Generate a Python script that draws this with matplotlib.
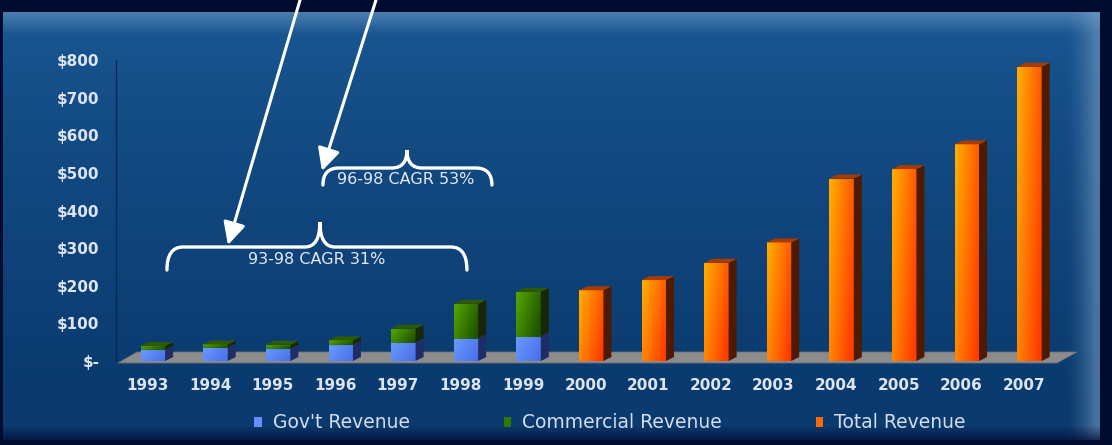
import numpy as np
import matplotlib.pyplot as plt
from matplotlib.patches import Polygon, Patch, PathPatch
from matplotlib.path import Path
from matplotlib.colors import to_rgb
from matplotlib.transforms import ScaledTranslation

# revenue, $M
years = ['1993', '1994', '1995', '1996', '1997', '1998', '1999',
         '2000', '2001', '2002', '2003', '2004', '2005', '2006', '2007']
govt_rev = [29, 35, 31, 42, 49, 59, 65]
commercial_rev = [11, 9, 12, 13, 37, 93, 119]
total_rev = [188, 215, 261, 315, 485, 510, 576, 782]
y_ticks = [0, 100, 200, 300, 400, 500, 600, 700, 800]
y_labels = ['$-', '$100', '$200', '$300', '$400', '$500', '$600', '$700', '$800']

W, H = 1112, 445
TXT = '#dde4f0'


def lerp(c1, c2, t):
    c1, c2 = np.array(to_rgb(c1)), np.array(to_rgb(c2))
    return c1 + (c2 - c1) * t[..., None]


def background():
    yy, xx = np.mgrid[0:H, 0:W].astype(float)
    # panel body, lighter near the top
    t = np.clip((yy - 20) / 380, 0, 1)
    img = lerp('#1a5894', '#0a3a6e', t ** 0.7)
    # top bevel
    top = np.clip(1 - (yy - 12) / 22, 0, 1)
    img = img * (1 - top[..., None] * 0.6) + np.array(to_rgb('#6b95c0')) * top[..., None] * 0.6
    # right bevel
    r = np.clip((xx - 1065) / 30, 0, 1) ** 1.5
    img = img * (1 - r[..., None] * 0.55) + np.array(to_rgb('#7a9ec4')) * r[..., None] * 0.55
    # outer dark frame
    out = np.array(to_rgb('#000b30'))
    mask = (yy < 12) | (xx > 1099) | (xx < 3) | (yy > 439)
    img[mask] = out
    # soft bottom shadow
    b = np.clip((yy - 425) / 15, 0, 1)
    img = img * (1 - b[..., None] * 0.7) + out * b[..., None] * 0.7
    return img


def grad_image(c1, c2, n=64):
    yy, xx = np.mgrid[0:n, 0:n] / (n - 1)
    t = np.clip(0.75 * xx + 0.35 * yy, 0, 1)
    return lerp(c1, c2, t)


def bar3d(ax, x, bottom, height, width, c1, c2, side, top, dx, dy):
    x0, x1 = x - width / 2, x + width / 2
    y0, y1 = bottom, bottom + height
    front = ax.bar(x, height, width, bottom=bottom, color='none', linewidth=0)[0]
    im = ax.imshow(grad_image(c1, c2), extent=[x0, x1, y0, y1],
                   origin='upper', aspect='auto', zorder=3)
    im.set_clip_path(front)
    ax.add_patch(Polygon([(x1, y0), (x1 + dx, y0 + dy), (x1 + dx, y1 + dy), (x1, y1)],
                         closed=True, fc=side, ec='none', zorder=3))
    ax.add_patch(Polygon([(x0, y1), (x1, y1), (x1 + dx, y1 + dy), (x0 + dx, y1 + dy)],
                         closed=True, fc=top, ec='none', zorder=3))


def brace(ax, x0, x1, xm, y_end, y_mid, y_peak, ux, uy):
    r = 16 / ux
    rp = 15 / ux
    verts = [(x0, y_end), (x0, y_mid), (x0 + r, y_mid),
             (xm - rp, y_mid), (xm, y_mid), (xm, y_peak),
             (xm, y_mid), (xm + rp, y_mid),
             (x1 - r, y_mid), (x1, y_mid), (x1, y_end)]
    codes = [Path.MOVETO, Path.CURVE3, Path.CURVE3,
             Path.LINETO, Path.CURVE3, Path.CURVE3,
             Path.CURVE3, Path.CURVE3,
             Path.LINETO, Path.CURVE3, Path.CURVE3]
    ax.add_patch(PathPatch(Path(verts, codes), fc='none', ec='white', lw=2.4,
                           capstyle='round', zorder=5, clip_on=False))


fig = plt.figure(figsize=(W / 100, H / 100), dpi=100)
bg = fig.add_axes([0, 0, 1, 1])
bg.imshow(background(), aspect='auto', interpolation='bilinear')
bg.axis('off')

ax_l, ax_r, ax_b, ax_t = 116, 1062, 361, 60
ax = fig.add_axes([ax_l / W, (H - ax_b) / H, (ax_r - ax_l) / W, (ax_b - ax_t) / H])
ax.set_facecolor('none')
ax.set_xlim(-0.59, 14.52)
ax.set_ylim(0, 800)
ux = (ax_r - ax_l) / (14.52 + 0.59)
uy = (ax_b - ax_t) / 800.0
dx, dy = 8 / ux, 4 / uy

# floor
fl = [(-0.59 + 2 / ux, -2 / uy), (14.52 - 5 / ux, -2 / uy),
      (14.52 + 15 / ux, 9 / uy), (-0.59 + 21 / ux, 9 / uy)]
ax.add_patch(Polygon(fl, closed=True, fc='#8c8c8c', ec='#6f6f6f', lw=0.6,
                     zorder=2, clip_on=False))

xs = np.arange(len(years))
w = 0.39
for i in range(len(govt_rev)):
    bar3d(ax, xs[i], 0, govt_rev[i], w, '#6a9aff', '#4a72ea', '#1f2c66', '#4a72ea', dx, dy)
    bar3d(ax, xs[i], govt_rev[i], commercial_rev[i], w, '#55a800', '#1d5200',
          '#17280a', '#2c5a06', dx, dy)
for j, v in enumerate(total_rev):
    i = len(govt_rev) + j
    bar3d(ax, xs[i], 0, v, w, '#ffb000', '#ff3c00', '#4e1a00', '#a83c00', dx, dy)

# axes styling
for s in ['top', 'right', 'bottom']:
    ax.spines[s].set_visible(False)
ax.spines['left'].set_color('#08284f')
ax.spines['left'].set_linewidth(1.0)
ax.set_yticks(y_ticks)
ax.set_yticklabels(y_labels)
ax.set_xticks(xs)
ax.set_xticklabels(years)
ax.tick_params(axis='y', length=0, pad=12, colors=TXT, labelsize=11)
ax.tick_params(axis='x', length=0, pad=12, colors=TXT, labelsize=11)
for lbl in ax.get_xticklabels() + ax.get_yticklabels():
    lbl.set_fontweight('bold')
    lbl.set_fontfamily('DejaVu Sans')
for lbl in ax.get_xticklabels():
    lbl.set_transform(lbl.get_transform() + ScaledTranslation(-0.055, 0, fig.dpi_scale_trans))

# growth annotations
def px(x, y):
    return ((x - 153) / ux, (ax_b - y) / uy)

bx0, _ = px(167, 0)
bx1, _ = px(467, 0)
bxm, _ = px(320, 0)
brace(ax, bx0, bx1, bxm, px(0, 270)[1], px(0, 247)[1], px(0, 222)[1], ux, uy)
ax.text(*px(317, 260), '93-98 CAGR 31%', ha='center', va='center', color='#e3e8f2',
        fontsize=11.5, zorder=6)

cx0, _ = px(323, 0)
cx1, _ = px(492, 0)
cxm, _ = px(407, 0)
brace(ax, cx0, cx1, cxm, px(0, 185)[1], px(0, 168)[1], px(0, 150)[1], ux, uy)
ax.text(*px(406, 180), '96-98 CAGR 53%', ha='center', va='center', color='#e3e8f2',
        fontsize=11.5, zorder=6)

arrow = dict(arrowstyle='-|>,head_length=0.8,head_width=0.4', color='white', lw=2.2,
             mutation_scale=17, shrinkA=0, shrinkB=0)
ax.annotate('', xy=px(228, 245), xytext=px(301, -3), arrowprops=arrow,
            annotation_clip=False, zorder=6)
ax.annotate('', xy=px(322, 171), xytext=px(377, -3), arrowprops=arrow,
            annotation_clip=False, zorder=6)

handles = [Patch(fc='#6a8cff', ec='none'), Patch(fc='#2e7a00', ec='none'),
           Patch(fc='#ff6a00', ec='none')]
leg = fig.legend(handles, ["Gov't Revenue", 'Commercial Revenue', 'Total Revenue'],
                 loc='center', bbox_to_anchor=(610 / W, (H - 423) / H), ncol=3,
                 frameon=False, fontsize=13.5, labelcolor='#d5dcec',
                 handlelength=0.4, handleheight=0.4, handletextpad=0.6,
                 columnspacing=5.0)

fig.savefig('out.png', dpi=100)
